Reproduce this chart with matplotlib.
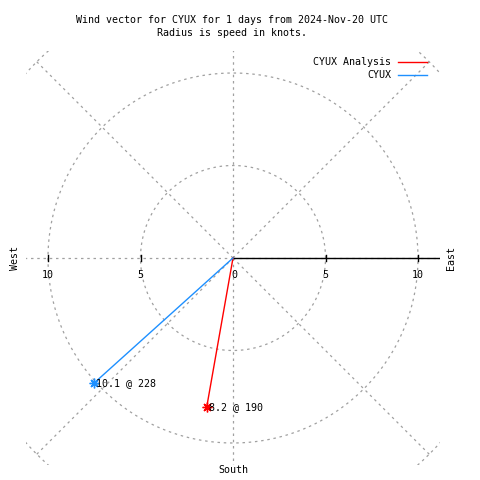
import numpy as np
import matplotlib.pyplot as plt
import matplotlib.lines as mlines

# data
series = ['CYUX Analysis', 'CYUX']
speeds = [8.2, 10.1]          # knots
directions = [190, 228]       # degrees
colors = ['#ff0000', '#1e90ff']
grid_radii = [5, 10, 15]
tick_values = [0, 5, 10]

RMAX = 11.2
mono = 'DejaVu Sans Mono'
fs = 7.2

fig = plt.figure(figsize=(4.8, 4.8), dpi=100)
# centre at (233, 258) px, 18.5 px per knot
px = 18.5
left = (233 - RMAX * px) / 480
bottom = (480 - 258 - RMAX * px) / 480
size = 2 * RMAX * px / 480
ax = fig.add_axes([left, bottom, size, size])
ax.set_xlim(-RMAX, RMAX)
ax.set_ylim(-RMAX, RMAX)
ax.set_aspect('equal')
ax.axis('off')

gridkw = dict(color='#a0a0a0', lw=0.9, ls=(0, (2, 3)), zorder=1)
t = np.linspace(0, 2 * np.pi, 400)
for r in grid_radii:
    ax.plot(r * np.cos(t), r * np.sin(t), **gridkw)
for ang in range(0, 360, 45):
    a = np.radians(ang)
    ax.plot([0, 15 * np.cos(a)], [0, 15 * np.sin(a)], **gridkw)

# radial axis
ax.plot([0, RMAX], [0, 0], color='black', lw=1.0, zorder=2)
for v in tick_values[1:]:
    for s in (-1, 1):
        ax.plot([s * v, s * v], [-0.15, 0.15], color='black', lw=1.0, zorder=2)
for v in tick_values:
    ax.text(-v if v else 0.05, -0.9, str(v), family=mono, fontsize=fs,
            ha='center', va='center')
    if v:
        ax.text(v, -0.9, str(v), family=mono, fontsize=fs, ha='center', va='center')

# wind vectors
for name, spd, d, c in zip(series, speeds, directions, colors):
    a = np.radians(d)
    x, y = spd * np.sin(a), spd * np.cos(a)
    ax.plot([0, x], [0, y], color=c, lw=1.0, zorder=3)
    ax.plot([x], [y], marker=(8, 2, 0), color=c, ms=7, mew=1.0, zorder=4)
    ax.text(x + 0.1, y, '%.1f @ %d' % (spd, d), family=mono, fontsize=fs,
            ha='left', va='center', zorder=5)

# titles and compass labels
fig.text(232 / 480, 1 - 20 / 480,
         'Wind vector for CYUX for 1 days from 2024-Nov-20 UTC',
         family=mono, fontsize=fs, ha='center', va='center')
fig.text(232 / 480, 1 - 33 / 480, 'Radius is speed in knots.',
         family=mono, fontsize=fs, ha='center', va='center')
fig.text(15 / 480, 1 - 258 / 480, 'West', family=mono, fontsize=fs,
         rotation=90, ha='center', va='center')
fig.text(451 / 480, 1 - 258 / 480, 'East', family=mono, fontsize=fs,
         rotation=90, ha='center', va='center')
fig.text(233 / 480, 1 - 470 / 480, 'South', family=mono, fontsize=fs,
         ha='center', va='center')

# legend
for i, (name, c) in enumerate(zip(series, colors)):
    yy = 1 - (62 + 13 * i) / 480
    fig.text(391 / 480, yy, name, family=mono, fontsize=fs, ha='right', va='center')
    fig.add_artist(mlines.Line2D([398 / 480, 427 / 480], [yy, yy], color=c, lw=1.0))

fig.savefig('out.png', dpi=100)
